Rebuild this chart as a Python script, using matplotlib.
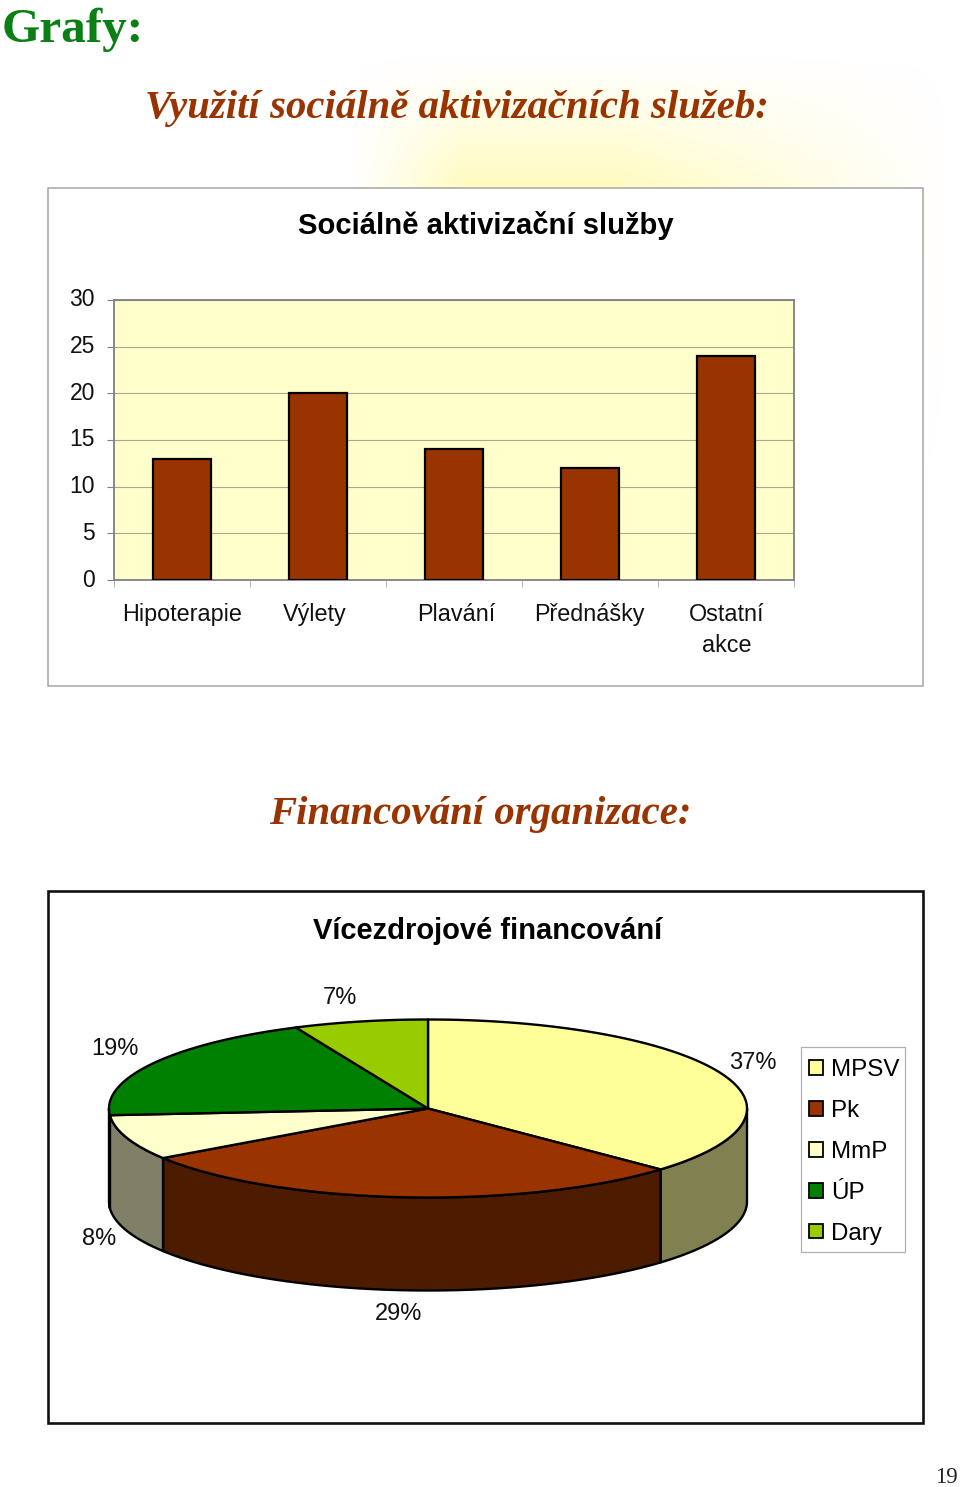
import numpy as np
import matplotlib
matplotlib.use("Agg")
import matplotlib.pyplot as plt
from matplotlib.patches import Polygon, Patch, Rectangle

# ---- data ----
bar_categories = ["Hipoterapie", "Výlety", "Plavání", "Přednášky", "Ostatní\nakce"]
bar_values = [13, 20, 14, 12, 24]
bar_ticks = [0, 5, 10, 15, 20, 25, 30]
pie_labels = ["MPSV", "Pk", "MmP", "ÚP", "Dary"]
pie_values = [37.0, 28.6, 8.2, 19.4, 6.8]
pie_top_colors = ["#FFFF99", "#993300", "#FFFFCC", "#008000", "#99CC00"]
pie_side_colors = ["#808050", "#4D1C00", "#808068", "#004000", "#4D6600"]
pie_label_pos = [(753, 1062), (399, 1313), (99, 1238), (115, 1048), (340, 997)]
label_nudge = [0, -3, 2, -1, 0.5]

W, H = 960, 1487
fig = plt.figure(figsize=(W / 100, H / 100), dpi=100, facecolor="white")
SANS = "Liberation Sans"
SERIF = "Liberation Serif"


def px_axes(x0, y0, x1, y1, **kw):
    return fig.add_axes([x0 / W, 1 - y1 / H, (x1 - x0) / W, (y1 - y0) / H], **kw)


# ---- page layer (pixel coordinates, y down) ----
page = px_axes(0, 0, W, H)
page.set_xlim(0, W)
page.set_ylim(H, 0)
page.axis("off")

# soft yellow glow behind the upper panel
gx, gy = np.meshgrid(np.arange(345, 950), np.arange(50, 520))
fx = np.where(gx < 540, np.clip((gx - 352) / 110, 0, 1), np.clip((948 - gx) / 330, 0, 1))
fy = np.clip((gy - 55) / 125, 0, 1)
alpha = (fx ** 1.0) * (fy ** 1.15)
alpha *= np.where(gy > 190, np.clip(1 - (gy - 190) / 300, 0, 1), 1)
rgba = np.zeros(gx.shape + (4,))
rgba[..., 0] = 1.0
rgba[..., 1] = 0.98
rgba[..., 2] = 0.62
rgba[..., 3] = alpha * 0.62
page.imshow(rgba, extent=(345, 950, 520, 50), aspect="auto", interpolation="bilinear", zorder=0)
page.set_xlim(0, W)
page.set_ylim(H, 0)

page.text(2, 42, "Grafy:", family=SERIF, weight="bold", size=35.5, color="#0A7F14", va="baseline", ha="left")
page.text(457, 118, "Využití sociálně aktivizačních služeb:", family=SERIF, weight="bold", style="italic",
          size=29.3, color="#993300", va="baseline", ha="center")
page.text(480, 824, "Financování organizace:", family=SERIF, weight="bold", style="italic",
          size=29.3, color="#993300", va="baseline", ha="center")
page.text(958, 1483, "19", family=SERIF, size=16.5, color="#222222", va="baseline", ha="right")

# panel frames
page.add_patch(Rectangle((48, 188), 875, 498, fc="white", ec="#A6A6A6", lw=1.1, zorder=1))
page.add_patch(Rectangle((48, 891), 875, 532, fc="white", ec="#111111", lw=1.9, zorder=1))
page.text(485.5, 234, "Sociálně aktivizační služby", family=SANS, weight="bold", size=21.1, color="black",
          ha="center", va="baseline", zorder=3)
page.text(487.5, 939, "Vícezdrojové financování", family=SANS, weight="bold", size=21, color="black",
          ha="center", va="baseline", zorder=3)

# ---- bar chart ----
ax = px_axes(114, 300, 794, 580, facecolor="#FFFFCC")
x = np.arange(len(bar_values))
ax.bar(x, bar_values, width=0.42, color="#993300", edgecolor="black", linewidth=1.6, zorder=3)
ax.set_xlim(-0.5, len(bar_values) - 0.5)
ax.set_ylim(0, 30)
ax.set_yticks(bar_ticks)
ax.yaxis.grid(True, color="#A8A890", lw=0.8, zorder=1)
ax.set_axisbelow(True)
ax.set_xticks(list(x - 0.5) + [len(x) - 0.5])
ax.set_xticklabels([])
ax.tick_params(axis="x", length=5, width=0.7, color="#B0B0B0")
ax.tick_params(axis="y", length=5, width=0.8, color="#808080", labelsize=16.5, pad=8.7, labelcolor="#111111")
for t in ax.get_yticklabels():
    t.set_family(SANS)
    t.set_va("center")
for s in ax.spines.values():
    s.set_color("#808080")
    s.set_linewidth(1.3)
for xi, lab, dx in zip(x, bar_categories, label_nudge):
    ax.annotate(lab, (xi, 0), xytext=(dx * 0.72, -16.5), xycoords="data", textcoords="offset points",
                ha="center", va="top", family=SANS, size=16.8, color="#111111", linespacing=1.45,
                annotation_clip=False)

# ---- 3-D looking pie (drawn from the values) ----
cx, cy, rx, ry, depth = 428, 1108.5, 319, 89, 93
fracs = np.array(pie_values, float) / sum(pie_values)
edges = np.concatenate([[0], np.cumsum(fracs) * 360])


def rim(a0, a1, dy=0):
    t = np.radians(np.linspace(a0, a1, max(int(abs(a1 - a0) * 2), 2)))
    return np.column_stack([cx + rx * np.sin(t), cy - ry * np.cos(t) + dy])


for i in range(len(fracs)):
    a0, a1 = max(edges[i], 90), min(edges[i + 1], 270)
    if a1 <= a0:
        continue
    pts = np.vstack([rim(a0, a1), rim(a0, a1, depth)[::-1]])
    page.add_patch(Polygon(pts, closed=True, fc=pie_side_colors[i], ec="black", lw=1.7, zorder=4, joinstyle="round"))
for i in range(len(fracs)):
    pts = np.vstack([[cx, cy], rim(edges[i], edges[i + 1])])
    page.add_patch(Polygon(pts, closed=True, fc=pie_top_colors[i], ec="black", lw=1.7, zorder=5, joinstyle="round"))
for v, (lx, ly) in zip(pie_values, pie_label_pos):
    page.text(lx, ly + 1, f"{round(v)}%", family=SANS, size=17, color="#111111", ha="center", va="center", zorder=6)

# legend: frame drawn separately so the entries can sit at the reference's offset
page.add_patch(Rectangle((801, 1047), 104, 205, fc="white", ec="#B0B0B0", lw=0.9, zorder=6))
handles = [Patch(fc=c, ec="black", lw=1.3) for c in pie_top_colors]
leg = page.legend(handles, pie_labels, loc="upper left", bbox_to_anchor=(801, 1051), bbox_transform=page.transData,
                  prop={"family": SANS, "size": 17.4}, frameon=False, borderaxespad=0, borderpad=0.34,
                  labelspacing=0.78, handlelength=0.56, handleheight=0.56, handletextpad=0.36)
leg.set_zorder(7)

fig.savefig("out.png", dpi=100, facecolor="white")
